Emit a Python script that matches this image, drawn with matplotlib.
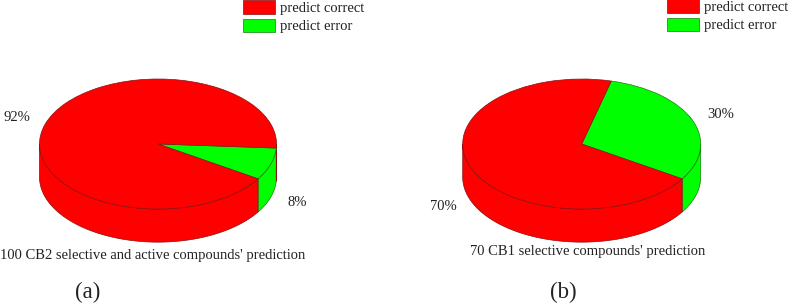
import numpy as np
import matplotlib
matplotlib.use('Agg')
import matplotlib.pyplot as plt

plt.rcParams['font.family'] = ['Liberation Serif', 'DejaVu Serif']

# данные
labels = ['predict correct', 'predict error']
values_a = [8, 92]    # error, correct
values_b = [30, 70]
caption_a = "100 CB2 selective and active compounds' prediction"
caption_b = "70 CB1 selective compounds' prediction"

W, H = 790, 304
GREEN, RED = '#00ff00', '#ff0000'
EDGES = {GREEN: '#1a7a10', RED: '#8a1010'}
START = -32.4
DEPTH = 0.51  # высота цилиндра в радиусах по y
TEXT = '#222222'


def fx(px):
    return px / W


def fy(py):
    return 1 - py / H


def draw_rim(ax, start, stop, color):
    # боковая стенка видна только снизу (180..360 градусов)
    for lo, hi in [(start - 360, stop - 360), (start, stop), (start + 360, stop + 360)]:
        a = max(lo, 180)
        b = min(hi, 360)
        if a >= b:
            continue
        t = np.radians(np.linspace(a, b, 80))
        xs = np.r_[np.cos(t), np.cos(t)[::-1]]
        ys = np.r_[np.sin(t), np.sin(t)[::-1] - DEPTH]
        ax.fill(xs, ys, facecolor=color, edgecolor=EDGES[color], linewidth=0.5,
                clip_on=False, zorder=1)


def draw_pie(cx, rx, top, ry, values):
    bottom = top + ry * (2 + DEPTH)
    ax = fig.add_axes([fx(cx - rx), fy(bottom), fx(2 * rx), (bottom - top) / H])
    colors = [GREEN, RED]
    # верхняя крышка поверх боковой стенки
    wedges, _ = ax.pie(values, colors=colors, startangle=START, counterclock=True,
                       wedgeprops={'linewidth': 0.5, 'zorder': 2})
    ang = START
    for v, c, w in zip(values, colors, wedges):
        step = v / sum(values) * 360
        draw_rim(ax, ang, ang + step, c)
        w.set_edgecolor(EDGES[c])
        w.set_clip_on(False)
        ang += step
    ax.set_aspect('auto')
    ax.set_xlim(-1, 1)
    ax.set_ylim(-1 - DEPTH, 1)
    ax.axis('off')
    return wedges


fig = plt.figure(figsize=(W / 100, H / 100), dpi=100, facecolor='white')

wedges_a = draw_pie(158, 118.5, 79, 65, values_a)
wedges_b = draw_pie(581.7, 119, 79, 65, values_b)

# легенды
for wedges, lx, ly in [(wedges_a, 243, 0), (wedges_b, 667, -1)]:
    fig.legend([wedges[1], wedges[0]], labels, loc='upper left',
               bbox_to_anchor=(fx(lx), fy(ly)), frameon=False, fontsize=10.5,
               borderpad=0, borderaxespad=0, handlelength=2.2, handleheight=1.05,
               handletextpad=0.37, labelspacing=0.27, labelcolor=TEXT)

# подписи
fs = 10.5
fig.text(fx(3), fy(118), '92%', fontsize=fs, va='center', color=TEXT)
fig.text(fx(288), fy(203), '8%', fontsize=fs, va='center', color=TEXT)
fig.text(fx(707), fy(114), '30%', fontsize=fs, va='center', color=TEXT)
fig.text(fx(430), fy(206), '70%', fontsize=fs, va='center', color=TEXT)
fig.text(fx(0.5), fy(255), caption_a, fontsize=fs, va='center', color=TEXT)
fig.text(fx(470), fy(252), caption_b, fontsize=fs, va='center', color=TEXT)
fig.text(fx(88), fy(292), '(a)', fontsize=16.5, ha='center', va='center', color=TEXT)
fig.text(fx(563), fy(292), '(b)', fontsize=16.5, ha='center', va='center', color=TEXT)

fig.savefig('out.png', dpi=100)
